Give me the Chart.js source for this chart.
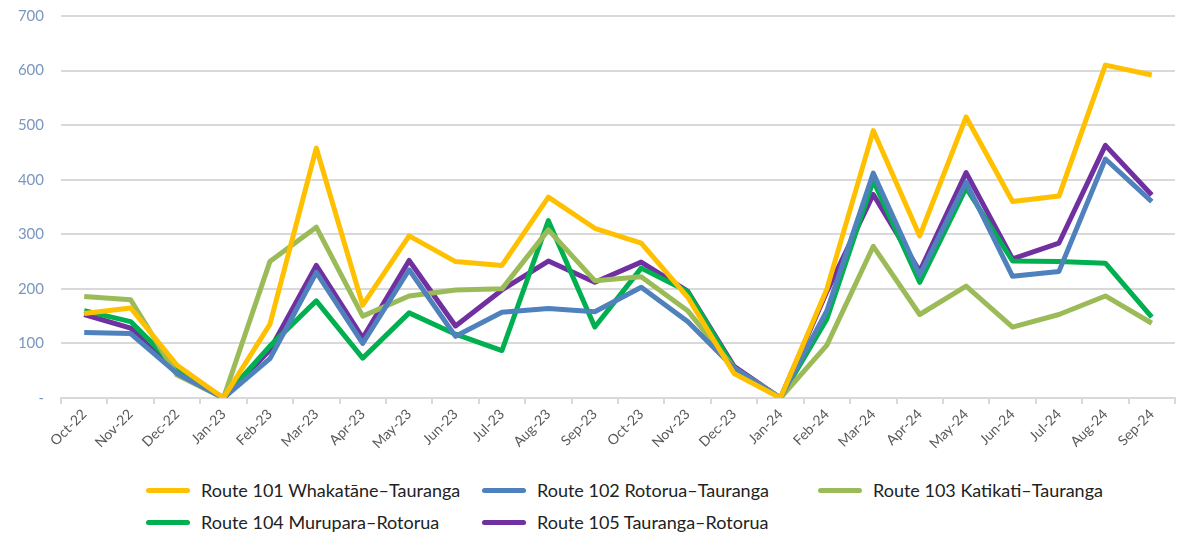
<!DOCTYPE html>
<html>
<head>
<meta charset="utf-8">
<script src="https://cdn.jsdelivr.net/npm/chart.js@4"></script>
<style>
  body { margin: 0; background: #fff; font-family: Lato, sans-serif; }
  #wrap { position: relative; width: 1184px; height: 535px; }
  #box { position: absolute; left: 0; top: 0; width: 1184px; height: 470px; }
  #legend { position: absolute; left: 146px; top: 479px; display: grid;
            grid-template-columns: 336px 336px 320px; row-gap: 10px; }
  .item { display: flex; align-items: center; font-size: 18px; color: #222; height: 22px; }
  .item span.sw { display: inline-block; width: 44px; height: 5px; border-radius: 3px; margin-right: 11px; }
</style>
</head>
<body>
<div id="wrap">
  <div id="box"><canvas id="myChart"></canvas></div>
  <div id="legend"></div>
</div>
<script>
  // categorias y valores
  const months = ['Oct-22', 'Nov-22', 'Dec-22', 'Jan-23', 'Feb-23', 'Mar-23', 'Apr-23', 'May-23',
    'Jun-23', 'Jul-23', 'Aug-23', 'Sep-23', 'Oct-23', 'Nov-23', 'Dec-23', 'Jan-24',
    'Feb-24', 'Mar-24', 'Apr-24', 'May-24', 'Jun-24', 'Jul-24', 'Aug-24', 'Sep-24'];

  const route101 = [155, 165, 60, 0, 135, 458, 170, 297, 250, 243, 368, 311, 284, 185, 45, 0, 200, 490, 297, 515, 360, 370, 610, 592];
  const route102 = [120, 118, 45, 0, 72, 230, 100, 235, 113, 157, 164, 158, 203, 140, 55, 0, 160, 412, 225, 395, 223, 232, 438, 360];
  const route103 = [186, 180, 42, 0, 250, 313, 150, 187, 198, 200, 308, 215, 222, 160, 55, 0, 97, 278, 153, 205, 130, 153, 187, 137];
  const route104 = [160, 140, 55, 0, 95, 178, 73, 156, 117, 87, 325, 130, 238, 195, 55, 0, 145, 398, 212, 385, 251, 250, 247, 148];
  const route105 = [153, 128, 50, 0, 88, 243, 110, 252, 132, 198, 251, 212, 249, 196, 58, 0, 195, 373, 232, 413, 255, 284, 463, 372];

  const names = ['Route 101 Whakatāne–Tauranga', 'Route 102 Rotorua–Tauranga', 'Route 103 Katikati–Tauranga',
    'Route 104 Murupara–Rotorua', 'Route 105 Tauranga–Rotorua'];
  const colors = ['#FFC000', '#4F81BD', '#9BBB59', '#00B050', '#7030A0'];
  const series = [route101, route102, route103, route104, route105];

  const datasets = series.map((s, i) => ({
    label: names[i],
    data: s,
    borderColor: colors[i],
    backgroundColor: colors[i],
    borderWidth: 5,
    pointRadius: 0,
    tension: 0,
    borderJoinStyle: 'round'
  }));

  const config = {
    type: 'line',
    data: { labels: months, datasets },
    options: {
      responsive: true,
      maintainAspectRatio: false,
      animation: false,
      layout: { padding: { top: 16, right: 9, left: 0, bottom: 0 } },
      plugins: { legend: { display: false }, tooltip: { enabled: false } },
      scales: {
        x: {
          offset: true,
          grid: { display: true, drawOnChartArea: false, drawTicks: true, tickLength: 6, offset: true, color: '#D9D9D9', lineWidth: 2 },
          border: { display: true, color: '#D9D9D9', width: 2 },
          ticks: { maxRotation: 45, minRotation: 45, autoSkip: false, color: '#595959', font: { family: 'Lato', size: 14 }, padding: 2 },
          afterFit: s => { s.height = 72; s.paddingLeft = 0; s.paddingRight = 0; }
        },
        y: {
          min: 0, max: 700,
          ticks: { stepSize: 100, color: '#7B97BF', font: { family: 'Lato', size: 15 }, padding: 17,
            callback: v => v === 0 ? '-' : v },
          grid: { color: '#D9D9D9', lineWidth: 2, drawTicks: false },
          border: { display: false },
          afterFit: s => { s.width = 61; s.paddingTop = 0; s.paddingBottom = 0; }
        }
      }
    }
  };

  const myChart = new Chart(document.getElementById('myChart'), config);

  // leyenda en html
  const legend = document.getElementById('legend');
  names.forEach((n, i) => {
    const d = document.createElement('div');
    d.className = 'item';
    d.innerHTML = '<span class="sw" style="background:' + colors[i] + '"></span>' + n;
    legend.appendChild(d);
  });
</script>
</body>
</html>
